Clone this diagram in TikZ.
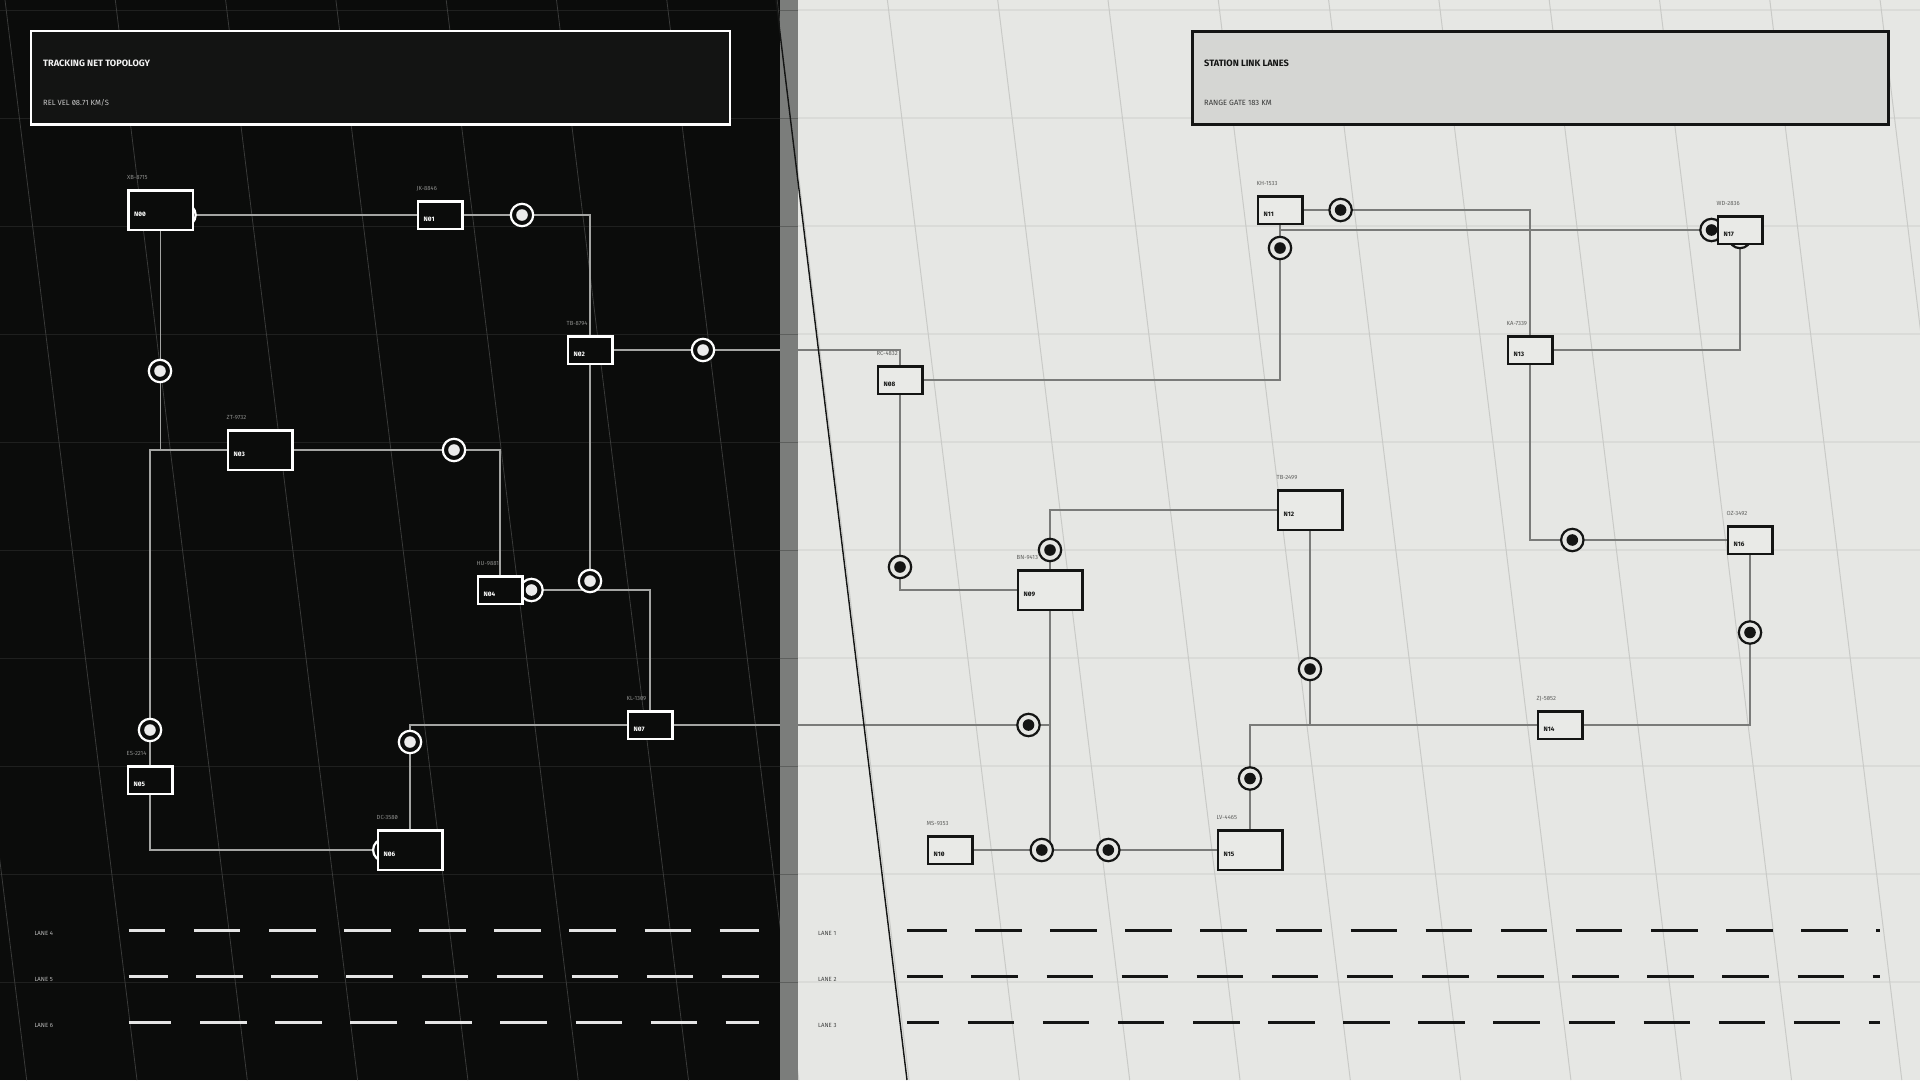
\documentclass[tikz,border=0pt]{standalone}
\usepackage{fontspec}
\setmainfont{Fira Sans}
\newfontfamily\hud{Fira Sans}[Numbers=SlashedZero]

\pgfdeclarelayer{grid}
\pgfdeclarelayer{wires}
\pgfsetlayers{grid,wires,main}

\definecolor{nightbg}{HTML}{0B0C0B}
\definecolor{nighthead}{HTML}{131413}
\definecolor{nightgrid}{HTML}{393A39}
\definecolor{nightrow}{HTML}{1F201F}
\definecolor{wirelight}{HTML}{A4A5A3}
\definecolor{taglight}{HTML}{8D8E8C}
\definecolor{daybg}{HTML}{E6E7E4}
\definecolor{dayfill}{HTML}{E9EAE7}
\definecolor{dayhead}{HTML}{D5D6D3}
\definecolor{daygrid}{HTML}{C9CAC7}
\definecolor{dayrow}{HTML}{DADBD8}
\definecolor{wiredark}{HTML}{7A7B79}
\definecolor{tagdark}{HTML}{5F605E}
\definecolor{seam}{HTML}{7B7D7B}
\definecolor{seamrow}{HTML}{5E605E}
\definecolor{ink}{HTML}{141514}

\begin{document}
\begin{tikzpicture}[x=1pt, y=-1pt,
    nightbox/.style={draw=white, fill=nightbg, line width=2.5pt, inner sep=0pt},
    daybox/.style={draw=ink, fill=dayfill, line width=2.5pt, inner sep=0pt},
    nightwire/.style={draw=wirelight, line width=1.6pt},
    daywire/.style={draw=wiredark, line width=1.6pt},
    nightmark/.style={circle, draw=white, fill=nightbg, line width=2.2pt,
        minimum size=22.4pt, inner sep=0pt,
        path picture={\fill[white!92!black] (path picture bounding box.center) circle[radius=5.8pt];}},
    daymark/.style={circle, draw=ink, fill=daybg, line width=2.2pt,
        minimum size=22.4pt, inner sep=0pt,
        path picture={\fill[ink] (path picture bounding box.center) circle[radius=5.8pt];}},
    nametext/.style={anchor=base west, inner sep=0pt, font=\hud\bfseries\fontsize{6.4}{7.5}\selectfont},
    tagtext/.style={anchor=base west, inner sep=0pt, font=\hud\fontsize{5.9}{7}\selectfont},
    lanetext/.style={anchor=base west, inner sep=0pt, font=\hud\fontsize{6}{7}\selectfont},
    lane/.style={line width=3.3pt, dash pattern=on 46.5pt off 28.6pt},
    headtitle/.style={anchor=base west, inner sep=0pt, font=\hud\bfseries\fontsize{9.2}{11}\selectfont},
    headsub/.style={anchor=base west, inner sep=0pt, font=\hud\fontsize{7.6}{9}\selectfont}
]
\useasboundingbox (0,0) rectangle (1920,1080);

% Panels and the slanted grid
\begin{pgfonlayer}{grid}
    \fill[nightbg] (0,0) rectangle (780,1080);
    \fill[daybg] (798,0) rectangle (1920,1080);
    \foreach \y in {10,118,...,982} {
        \draw[nightrow, line width=1pt] (0,\y) -- (780,\y);
        \draw[dayrow, line width=2pt] (798,\y) -- (1920,\y);
    }
    \begin{scope}
        \clip (0,0) rectangle (780,1080);
        \foreach \k in {-2,...,7}
            \draw[nightgrid, line width=0.8pt] ({5+110.3*\k},0) -- ({137+110.3*\k},1080);
    \end{scope}
    \begin{scope}
        \clip (798,0) rectangle (1920,1080);
        \foreach \k in {6,...,17}
            \draw[daygrid, line width=1pt] ({5+110.3*\k},0) -- ({137+110.3*\k},1080);
    \end{scope}
\end{pgfonlayer}

% Header panels
\node[draw=white, fill=nighthead, line width=2.5pt, minimum width=699pt, minimum height=93.5pt] (nighthead) at (380.25,77.5) {};
\node[headtitle, text=white!95!black] (nighttitle) at (43,66) {TRACKING NET TOPOLOGY};
\node[headsub, text=white!78!black] (nightsub) at (43,105.3) {REL VEL 08.71 KM/S};
\node[draw=ink, fill=dayhead, line width=3pt, minimum width=696pt, minimum height=93pt] (dayhead) at (1540.5,77.75) {};
\node[headtitle, text=ink] (daytitle) at (1204,66) {STATION LINK LANES};
\node[headsub, text=ink!85!white] (daysub) at (1204,105.3) {RANGE GATE 183 KM};

% Tracking stations, dark side
\foreach \n/\x/\y/\w/\h/\tag in {N00/160.5/210/64.5/39.5/XB-8715, N01/440/215/44.5/27.5/JK-8846,
                                 N02/590/350/44.5/27.5/TB-8794, N03/260/450/64.5/39.5/ZT-9732,
                                 N04/500/590/44.5/27.5/HU-9881, N05/150/780/44.5/27.5/ES-2214,
                                 N06/410/850/64.5/39.5/DC-3580, N07/650/725/44.5/27.5/KL-1309} {
    \node[nightbox, minimum width=\w pt, minimum height=\h pt] (\n) at (\x,\y) {};
    \node[nametext, text=white] (\n-name) at ([xshift=7pt, yshift=-6pt]\n.west) {\n};
    \node[tagtext, text=taglight] (\n-tag) at ([yshift=9.5pt]\n.north west) {\tag};
}

% Stations, light side
\foreach \n/\x/\y/\w/\h/\tag in {N08/900/380/44.5/27.5/RC-4832, N09/1050/590/64.5/39.5/BN-9413,
                                 N10/950/850/44.5/27.5/MS-9353, N11/1280/210/44.5/27.5/KH-1533,
                                 N12/1310/510/64.5/39.5/TB-2499, N13/1530/350/44.5/27.5/KA-7339,
                                 N14/1560/725/44.5/27.5/ZJ-5052, N15/1250/850/64.5/39.5/LV-4465,
                                 N16/1750/540/44.5/27.5/OZ-3492, N17/1740/230/44.5/27.5/WD-2836} {
    \node[daybox, minimum width=\w pt, minimum height=\h pt] (\n) at (\x,\y) {};
    \node[nametext, text=ink] (\n-name) at ([xshift=7pt, yshift=-6pt]\n.west) {\n};
    \node[tagtext, text=tagdark] (\n-tag) at ([yshift=9.5pt]\n.north west) {\tag};
}

% Links, drawn under the boxes
\begin{pgfonlayer}{wires}
    \begin{scope}
        \clip (0,0) rectangle (789,1080);
        \draw[nightwire] (N00 |- N01) -- (N01);
        \draw[nightwire] (N01) -| (N02);
        \draw[nightwire] (N00) |- (N03);
        \draw[nightwire] (N03) -| (N05);
        \draw[nightwire] (N03) -| (N04);
        \draw[nightwire] (N02) |- (N04);
        \draw[nightwire] (N04) -| (N07);
        \draw[nightwire] (N07) -| (N06);
        \draw[nightwire] (N05) |- (N06);
        \draw[nightwire] (N02) -| (N08);
        \draw[nightwire] (N07) -| (N09);
    \end{scope}
    \begin{scope}
        \clip (789,0) rectangle (1920,1080);
        \draw[daywire] (N02) -| (N08);
        \draw[daywire] (N07) -| (N09);
        \draw[daywire] (N11) -| (N13);
        \draw[daywire] (N11) |- (N17);
        \draw[daywire] (N11) |- (N08);
        \draw[daywire] (N17) |- (N13);
        \draw[daywire] (N13) |- (N16);
        \draw[daywire] (N12) -| (N09);
        \draw[daywire] (N08) |- (N09);
        \draw[daywire] (N16) |- (N14);
        \draw[daywire] (N12) |- (N14);
        \draw[daywire] (N14) -| (N15);
        \draw[daywire] (N09) |- (N10);
        \draw[daywire] (N09) |- (N15);
    \end{scope}
    % Relay rings on the links
    \foreach \x/\y [count=\i] in {184.5/215, 522/215, 160/371, 150/730, 454/450,
                                  590/581, 531.5/590, 410/742, 384.3/850, 703/350}
        \node[nightmark] (nightring\i) at (\x,\y) {};
    \foreach \x/\y [count=\i] in {1028.5/725, 1340.6/210, 1711.5/230, 1280/248, 1740/237,
                                  1572.3/540, 1050/550, 900/567, 1750/632.5, 1310/669,
                                  1250/778.5, 1041.8/850, 1108.3/850}
        \node[daymark] (dayring\i) at (\x,\y) {};
\end{pgfonlayer}

% Seam between the two panels
\fill[seam] (780,0) rectangle (798,1080);
\foreach \y in {10,118,...,982}
    \draw[seamrow, line width=1pt] (780,\y) -- (798,\y);
\draw[ink, line width=1.4pt] (776,0) -- (907,1080);

% Lanes
\foreach \y/\p/\q in {930.3/9.8/7.3, 976.3/7.5/11, 1022.3/3.7/14.7} {
    \draw[lane, white!90!black, dash phase=\p pt] (128.6,\y) -- (759,\y);
    \draw[lane, ink, dash phase=\q pt] (907.3,\y) -- (1879.5,\y);
}
\foreach \lab/\y [count=\i] in {LANE 4/935.7, LANE 5/981.7, LANE 6/1027.7}
    \node[lanetext, text=white!72!black] (nightlane\i) at (34.3,\y) {\lab};
\foreach \lab/\y [count=\i] in {LANE 1/935.7, LANE 2/981.7, LANE 3/1027.7}
    \node[lanetext, text=ink!80!white] (daylane\i) at (818,\y) {\lab};

\end{tikzpicture}
\end{document}
